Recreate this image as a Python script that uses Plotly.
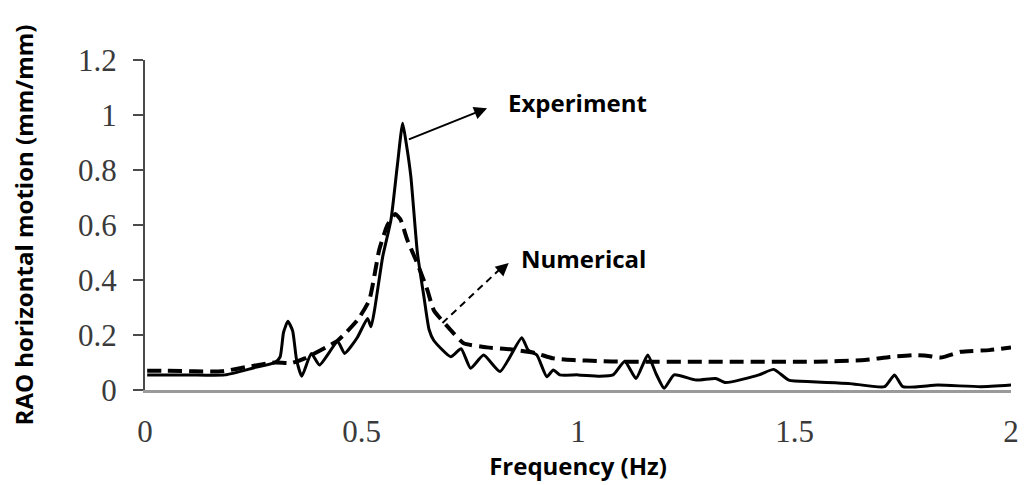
import plotly.graph_objects as go

# Experiment (solid line)
exp_freq = [0.005, 0.10, 0.185, 0.25, 0.30, 0.312, 0.320, 0.330, 0.341, 0.350, 0.362,
            0.384, 0.403, 0.445, 0.461, 0.490, 0.514, 0.522, 0.530, 0.549, 0.568, 0.583,
            0.595, 0.603, 0.614, 0.629, 0.645, 0.656, 0.667, 0.706, 0.730, 0.752, 0.782,
            0.820, 0.870, 0.885, 0.905, 0.928, 0.943, 0.958, 1.000, 1.050, 1.081, 1.108,
            1.134, 1.161, 1.180, 1.199, 1.222, 1.273, 1.318, 1.341, 1.418, 1.452, 1.487,
            1.540, 1.625, 1.708, 1.731, 1.750, 1.831, 1.930, 2.000]
exp_val = [0.055, 0.055, 0.055, 0.08, 0.10, 0.12, 0.21, 0.25, 0.215, 0.11, 0.05,
           0.133, 0.091, 0.176, 0.133, 0.19, 0.26, 0.23, 0.29, 0.485, 0.618, 0.82,
           0.97, 0.90, 0.776, 0.50, 0.33, 0.22, 0.18, 0.121, 0.15, 0.079, 0.127,
           0.067, 0.19, 0.145, 0.127, 0.048, 0.073, 0.055, 0.055, 0.05, 0.055, 0.105,
           0.042, 0.127, 0.06, 0.006, 0.055, 0.036, 0.042, 0.027, 0.055, 0.075, 0.036,
           0.03, 0.024, 0.012, 0.055, 0.012, 0.018, 0.012, 0.018]

# Numerical (dashed line)
num_freq = [0.005, 0.05, 0.177, 0.239, 0.30, 0.338, 0.369, 0.445, 0.491, 0.518, 0.541,
            0.560, 0.578, 0.590, 0.606, 0.629, 0.652, 0.667, 0.706, 0.736, 0.790, 0.843,
            0.900, 0.943, 0.989, 1.050, 1.104, 1.300, 1.550, 1.662, 1.720, 1.777, 1.810,
            1.838, 1.884, 1.950, 2.000]
num_val = [0.07, 0.07, 0.068, 0.085, 0.10, 0.098, 0.115, 0.18, 0.255, 0.327, 0.51,
           0.60, 0.64, 0.62, 0.545, 0.46, 0.364, 0.29, 0.218, 0.17, 0.155, 0.148,
           0.135, 0.115, 0.109, 0.105, 0.103, 0.103, 0.103, 0.109, 0.12, 0.127, 0.124,
           0.118, 0.139, 0.145, 0.155]

x_ticks = [0, 0.5, 1, 1.5, 2]
x_tick_labels = ["0", "0.5", "1", "1.5", "2"]
y_ticks = [0, 0.2, 0.4, 0.6, 0.8, 1, 1.2]
y_tick_labels = ["0", "0.2", "0.4", "0.6", "0.8", "1", "1.2"]

fig = go.Figure()
fig.add_trace(go.Scatter(x=num_freq, y=num_val, mode="lines", name="Numerical",
                         line=dict(color="black", width=4, dash="14px,7px",
                                   shape="spline", smoothing=0.5)))
fig.add_trace(go.Scatter(x=exp_freq, y=exp_val, mode="lines", name="Experiment",
                         line=dict(color="black", width=3, shape="spline", smoothing=0.5)))

title_font = dict(family="Open Sans", size=24, color="black")

# Experiment arrow (solid)
fig.add_annotation(x=0.79, y=1.025, ax=0.606, ay=0.909, xref="x", yref="y",
                   axref="x", ayref="y", text="", showarrow=True,
                   arrowhead=2, arrowsize=1.3, arrowwidth=2, arrowcolor="black",
                   standoff=0, startstandoff=0)
fig.add_annotation(x=0.999, y=1.044, xref="x", yref="y", text="<b>Experiment</b>",
                   showarrow=False, font=title_font, xanchor="center", yanchor="middle")

# Numerical arrow (dashed)
fig.add_shape(type="line", x0=0.687, y0=0.244, x1=0.82, y1=0.44, xref="x", yref="y",
              line=dict(color="black", width=2, dash="7px,5px"))
fig.add_annotation(x=0.84, y=0.462, ax=-9, ay=8, xref="x", yref="y",
                   text="", showarrow=True, arrowhead=2, arrowsize=1.3,
                   arrowwidth=2, arrowcolor="black", standoff=0)
fig.add_annotation(x=1.013, y=0.48, xref="x", yref="y", text="<b>Numerical</b>",
                   showarrow=False, font=title_font, xanchor="center", yanchor="middle")

fig.update_layout(
    width=1031, height=485,
    margin=dict(l=145, r=14, t=60, b=95),
    paper_bgcolor="white", plot_bgcolor="white",
    showlegend=False,
    xaxis=dict(range=[0, 2], tickvals=x_ticks, ticktext=x_tick_labels,
               showgrid=False, zeroline=False, showline=True,
               linecolor="#9a9a9a", linewidth=3, ticks="",
               tickfont=dict(family="Liberation Serif", size=31, color="#3a3a3a"),
               ticklabelstandoff=12,
               title=dict(text="<b>Frequency (Hz)</b>", font=title_font, standoff=6)),
    yaxis=dict(range=[0, 1.2], tickvals=y_ticks, ticktext=y_tick_labels,
               showgrid=False, zeroline=False, showline=True,
               linecolor="#4a4a4a", linewidth=2, ticks="outside", ticklen=10,
               tickwidth=2, tickcolor="#4a4a4a",
               tickfont=dict(family="Liberation Serif", size=31, color="#3a3a3a"),
               ticklabelstandoff=10,
               title=dict(text="<b>RAO horizontal motion (mm/mm)</b>", font=title_font,
                          standoff=38)),
)

fig.write_html("out.html")
